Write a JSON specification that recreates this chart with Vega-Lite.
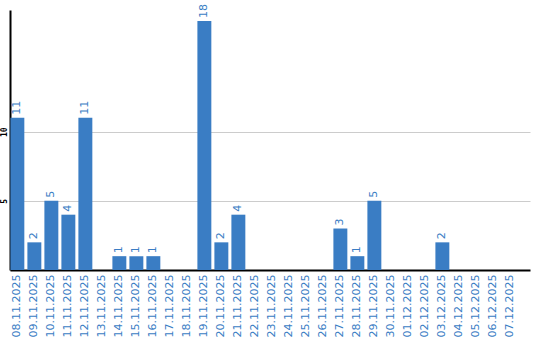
{
  "$schema": "https://vega.github.io/schema/vega-lite/v6.json",
  "width": 520,
  "height": 260,
  "autosize": {"type": "none"},
  "padding": {"left": 10, "top": 10, "right": 10, "bottom": 70},
  "background": "white",
  "config": {"view": {"stroke": null}},
  "data": {"values": [
    {"d": "08.11.2025", "v": 11}, {"d": "09.11.2025", "v": 2}, {"d": "10.11.2025", "v": 5},
    {"d": "11.11.2025", "v": 4}, {"d": "12.11.2025", "v": 11}, {"d": "13.11.2025", "v": 0},
    {"d": "14.11.2025", "v": 1}, {"d": "15.11.2025", "v": 1}, {"d": "16.11.2025", "v": 1},
    {"d": "17.11.2025", "v": 0}, {"d": "18.11.2025", "v": 0}, {"d": "19.11.2025", "v": 18},
    {"d": "20.11.2025", "v": 2}, {"d": "21.11.2025", "v": 4}, {"d": "22.11.2025", "v": 0},
    {"d": "23.11.2025", "v": 0}, {"d": "24.11.2025", "v": 0}, {"d": "25.11.2025", "v": 0},
    {"d": "26.11.2025", "v": 0}, {"d": "27.11.2025", "v": 3}, {"d": "28.11.2025", "v": 1},
    {"d": "29.11.2025", "v": 5}, {"d": "30.11.2025", "v": 0}, {"d": "01.12.2025", "v": 0},
    {"d": "02.12.2025", "v": 0}, {"d": "03.12.2025", "v": 2}, {"d": "04.12.2025", "v": 0},
    {"d": "05.12.2025", "v": 0}, {"d": "06.12.2025", "v": 0}, {"d": "07.12.2025", "v": 0}
  ]},
  "encoding": {
    "x": {"field": "d", "type": "ordinal", "sort": null,
      "scale": {"paddingInner": 0.18, "paddingOuter": 0.384, "align": 0.03},
      "axis": {"title": null, "labelAngle": -90, "labelAlign": "right", "labelBaseline": "middle",
        "labelColor": "#3a7dc4", "labelFont": "DejaVu Sans", "labelFontSize": 11, "labelPadding": 4,
        "ticks": false, "domainColor": "black", "domainWidth": 2, "labelOverlap": false}},
    "y": {"field": "v", "type": "quantitative",
      "scale": {"domain": [0, 18.8], "nice": false},
      "axis": {"title": null, "values": [5, 10], "labelAngle": -90, "labelAlign": "center",
        "labelBaseline": "bottom", "labelColor": "black", "labelFont": "DejaVu Sans Mono",
        "labelFontSize": 8, "labelFontWeight": "bold", "labelPadding": 2, "ticks": false,
        "domainColor": "black", "domainWidth": 2, "gridColor": "#cccccc", "gridWidth": 1}}
  },
  "layer": [
    {"mark": {"type": "bar", "color": "#3a7dc4"}},
    {"transform": [{"filter": "datum.v > 0"}],
     "mark": {"type": "text", "angle": -90, "align": "left", "baseline": "middle", "dx": 3,
       "color": "#3a7dc4", "font": "DejaVu Sans", "fontSize": 11},
     "encoding": {"text": {"field": "v", "type": "quantitative"}}}
  ]
}
